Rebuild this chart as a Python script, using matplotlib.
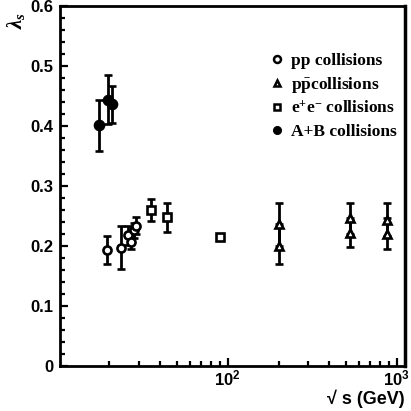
import matplotlib
matplotlib.use('Agg')
import matplotlib.pyplot as plt
from matplotlib.ticker import FixedLocator, MultipleLocator, NullFormatter, FixedFormatter
from matplotlib.lines import Line2D

plt.rcParams['mathtext.fontset'] = 'custom'
plt.rcParams['mathtext.rm'] = 'Liberation Serif:bold'
plt.rcParams['mathtext.bf'] = 'Liberation Serif:bold'
plt.rcParams['mathtext.it'] = 'Liberation Serif:bold:italic'
plt.rcParams['mathtext.sf'] = 'Liberation Sans:bold'

# ---- data ----
pp_E = [19.4, 23.4, 25.6, 27.0, 27.9, 28.9]
pp_val = [0.193, 0.197, 0.218, 0.206, 0.226, 0.233]
pp_lo = [0.023, 0.036, 0.016, 0.011, 0.012, 0.013]
pp_hi = [0.024, 0.037, 0.016, 0.010, 0.012, 0.015]

ppbar_E = [200, 200, 530, 530, 875, 875]
ppbar_val = [0.236, 0.200, 0.246, 0.222, 0.244, 0.220]
ppbar_lo = [0.036, 0.030, 0.026, 0.023, 0.027, 0.025]
ppbar_hi = [0.036, 0.036, 0.026, 0.025, 0.028, 0.026]

ee_E = [35.2, 43.7, 90.4]
ee_val = [0.260, 0.248, 0.2145]
ee_lo = [0.018, 0.024, 0.0]
ee_hi = [0.018, 0.023, 0.0]

ab_E = [17.3, 19.6, 20.6]
ab_val = [0.401, 0.444, 0.437]
ab_lo = [0.042, 0.041, 0.032]
ab_hi = [0.042, 0.041, 0.030]

legend_labels = ["pp collisions", r"p$\bar{\mathrm{p}}$collisions",
                 r"e$^{+}$e$^{-}$ collisions", "A+B collisions"]
y_ticks = [0, 0.1, 0.2, 0.3, 0.4, 0.5, 0.6]
y_tick_labels = ["0", "0.1", "0.2", "0.3", "0.4", "0.5", "0.6"]
x_ticks = [100, 1000]
x_tick_labels = [r"$\mathsf{10^{2}}$", r"$\mathsf{10^{3}}$"]

fig = plt.figure(figsize=(4.11, 4.11), dpi=100)
ax = fig.add_axes([60/411, 45/411, 345/411, 360/411])

eb = dict(color='black', ecolor='black', elinewidth=2.0, capsize=2.8, capthick=2.0,
          linestyle='none', markeredgewidth=1.9)
ax.errorbar(pp_E, pp_val, yerr=[pp_lo, pp_hi], marker='o', markersize=5.8,
            markerfacecolor='white', markeredgecolor='black', **eb)
ax.errorbar(ppbar_E, ppbar_val, yerr=[ppbar_lo, ppbar_hi], marker='^', markersize=6,
            markerfacecolor='white', markeredgecolor='black', **eb)
ax.errorbar(ee_E, ee_val, yerr=[ee_lo, ee_hi], marker='s', markersize=5.5,
            markerfacecolor='white', markeredgecolor='black', **eb)
ax.errorbar(ab_E, ab_val, yerr=[ab_lo, ab_hi], marker='o', markersize=6.5,
            markerfacecolor='black', markeredgecolor='black', **eb)

ax.set_xscale('log')
ax.set_xlim(10.2, 1120)
ax.set_ylim(0, 0.6)

for s in ax.spines.values():
    s.set_linewidth(2.0)
ax.spines['right'].set_linewidth(2.5)

ax.yaxis.set_major_locator(FixedLocator(y_ticks))
ax.yaxis.set_major_formatter(FixedFormatter(y_tick_labels))
ax.yaxis.set_minor_locator(MultipleLocator(0.02))
ax.xaxis.set_major_locator(FixedLocator(x_ticks))
ax.xaxis.set_major_formatter(FixedFormatter(x_tick_labels))
minor_x = [v * d for d in (10, 100) for v in range(2, 10)]
ax.xaxis.set_minor_locator(FixedLocator(minor_x))
ax.xaxis.set_minor_formatter(NullFormatter())

ax.tick_params(axis='both', which='both', direction='in', top=False, right=False, width=1.6)
ax.tick_params(axis='both', which='major', length=6)
ax.tick_params(axis='both', which='minor', length=3.5)
for lab in ax.get_yticklabels() + ax.get_xticklabels():
    lab.set_fontfamily('Liberation Sans')
    lab.set_fontweight('bold')
    lab.set_fontsize(12)
ax.tick_params(axis='y', pad=5)
ax.tick_params(axis='x', pad=2)

handles = [
    Line2D([], [], marker='o', linestyle='none', markersize=5, markerfacecolor='white',
           markeredgecolor='black', markeredgewidth=1.8),
    Line2D([], [], marker='^', linestyle='none', markersize=5, markerfacecolor='white',
           markeredgecolor='black', markeredgewidth=1.8),
    Line2D([], [], marker='s', linestyle='none', markersize=5, markerfacecolor='white',
           markeredgecolor='black', markeredgewidth=1.8),
    Line2D([], [], marker='o', linestyle='none', markersize=5.5, markerfacecolor='black',
           markeredgecolor='black'),
]
leg = ax.legend(handles, legend_labels, loc='upper left', bbox_to_anchor=(0.59, 0.89),
                frameon=False, handlelength=0.8, handletextpad=0.4, labelspacing=0.35,
                borderaxespad=0, prop={'family': 'Liberation Serif', 'weight': 'bold', 'size': 12.5})

fig.text(16/411, 1 - 20/411, r"$\lambda_{s}$", rotation=90, ha='center', va='center',
         fontsize=15)
fig.text(405/411, 3/411, "\u221a s (GeV)", ha='right', va='bottom',
         fontsize=13, fontweight='bold', family='Liberation Sans')

fig.savefig('out.png', dpi=100)
